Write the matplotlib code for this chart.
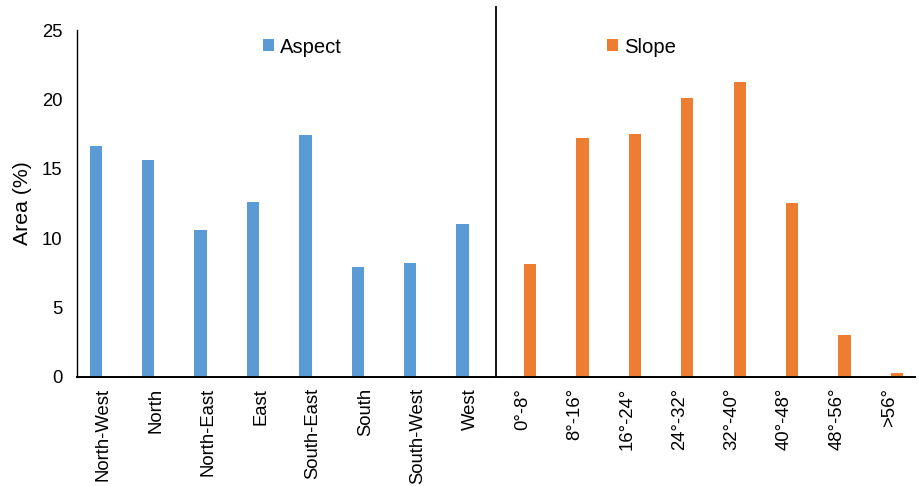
import numpy as np
import matplotlib
matplotlib.use("Agg")
import matplotlib.pyplot as plt

plt.rcParams['font.family'] = ['Liberation Sans', 'DejaVu Sans']

aspect_labels = ['North-West', 'North', 'North-East', 'East', 'South-East',
                 'South', 'South-West', 'West']
aspect_area = [16.66, 15.62, 10.6, 12.57, 17.4, 7.93, 8.18, 10.99]

slope_labels = ['0°-8°', '8°-16°', '16°-24°', '24°-32°', '32°-40°',
                '40°-48°', '48°-56°', '>56°']
slope_area = [8.1, 17.21, 17.52, 20.12, 21.25, 12.52, 2.98, 0.29]

blue = '#5B9BD5'
orange = '#ED7D31'

fig = plt.figure(figsize=(9.2, 4.86), dpi=100)
ax = fig.add_axes([0.084, 0.225, 0.911, 0.713])

n_a = len(aspect_area)
n_s = len(slope_area)
xa = np.arange(n_a)
xs = np.arange(n_a, n_a + n_s)
w = 0.235
off = 0.145

ba = ax.bar(xa - off, aspect_area, width=w, color=blue, label='Aspect')
bs = ax.bar(xs + off, slope_area, width=w, color=orange, label='Slope')

ax.set_xlim(-0.5, n_a + n_s - 0.5)
ax.set_ylim(0, 25)
ax.set_yticks(range(0, 26, 5))
ax.set_xticks(np.arange(n_a + n_s))
ax.set_xticklabels(aspect_labels + slope_labels, rotation=90)
ax.tick_params(axis='both', length=0, labelsize=13.3)
ax.tick_params(axis='x', pad=8)
ax.tick_params(axis='y', pad=10.5)
ax.set_ylabel('Area (%)', fontsize=15.3, labelpad=7)

for s in ['top', 'right']:
    ax.spines[s].set_visible(False)
ax.spines['left'].set_linewidth(1.0)
ax.spines['bottom'].set_linewidth(1.4)

# divider between the two groups, running up past the axes top
ax.plot([n_a - 0.5, n_a - 0.5], [0, 26.65], color='black', lw=1.3,
        clip_on=False)

leg_kw = dict(loc='center left', bbox_transform=fig.transFigure,
              frameon=False, fontsize=14.6, handlelength=0.55,
              handleheight=0.55, handletextpad=0.3, borderpad=0,
              borderaxespad=0)
leg1 = ax.legend(handles=[ba], bbox_to_anchor=(263 / 920, 1 - 47 / 486),
                 **leg_kw)
ax.add_artist(leg1)
ax.legend(handles=[bs], bbox_to_anchor=(607 / 920, 1 - 47 / 486), **leg_kw)

fig.savefig('out.png', dpi=100)
